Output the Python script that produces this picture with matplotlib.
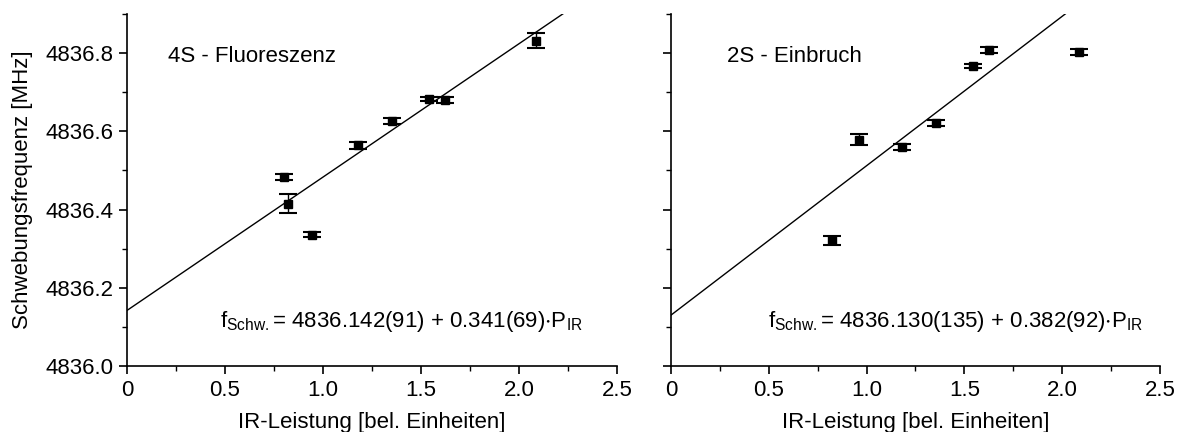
import numpy as np
import matplotlib.pyplot as plt
from matplotlib.ticker import MultipleLocator, FixedFormatter, FixedLocator

plt.rcParams['font.family'] = ['Liberation Sans', 'DejaVu Sans']
plt.rcParams['mathtext.default'] = 'regular'

# 4S fluorescence
p_4s = [0.80, 0.82, 0.945, 1.18, 1.35, 1.543, 1.62, 2.086]
f_4s = [4836.483, 4836.415, 4836.336, 4836.564, 4836.626, 4836.683, 4836.680, 4836.832]
e_4s = [0.007, 0.024, 0.007, 0.008, 0.007, 0.006, 0.007, 0.020]
fit_4s = (4836.142, 0.341)

# 2S dip
p_2s = [0.822, 0.961, 1.182, 1.354, 1.544, 1.626, 2.086]
f_2s = [4836.321, 4836.578, 4836.560, 4836.621, 4836.766, 4836.808, 4836.802]
e_2s = [0.012, 0.014, 0.007, 0.008, 0.005, 0.007, 0.008]
fit_2s = (4836.130, 0.382)

xticks = [0, 0.5, 1.0, 1.5, 2.0, 2.5]
xticklabels = ['0', '0.5', '1.0', '1.5', '2.0', '2.5']

fig = plt.figure(figsize=(11.8, 4.32), dpi=100)
ax1 = fig.add_axes([0.1076, 0.1528, 0.4153, 0.8148])
ax2 = fig.add_axes([0.5686, 0.1528, 0.4144, 0.8148])

panels = [
    (ax1, p_4s, f_4s, e_4s, fit_4s, '4S - Fluoreszenz', 0.084,
     r'$f_{Schw.}$= 4836.142(91) + 0.341(69)$\cdot$$P_{IR}$', 0.19),
    (ax2, p_2s, f_2s, e_2s, fit_2s, '2S - Einbruch', 0.115,
     r'$f_{Schw.}$= 4836.130(135) + 0.382(92)$\cdot$$P_{IR}$', 0.198),
]

for ax, px, fy, fe, (a, b), title, tx, eq, ex in panels:
    xl = np.array([0, 2.5])
    ax.plot(xl, a + b * xl, color='black', lw=1.0)
    ax.errorbar(px, fy, yerr=fe, fmt='s', color='black', ms=6,
                elinewidth=1.0, capsize=6.5, capthick=1.5)
    ax.set_xlim(0, 2.5)
    ax.set_ylim(4836.0, 4836.9)
    for side in ('top', 'right'):
        ax.spines[side].set_visible(False)
    for side in ('left', 'bottom'):
        ax.spines[side].set_linewidth(1.2)
    ax.xaxis.set_major_locator(FixedLocator(xticks))
    ax.xaxis.set_major_formatter(FixedFormatter(xticklabels))
    ax.xaxis.set_minor_locator(MultipleLocator(0.25))
    ax.yaxis.set_major_locator(MultipleLocator(0.2))
    ax.yaxis.set_minor_locator(MultipleLocator(0.1))
    ax.yaxis.set_major_formatter(plt.FuncFormatter(lambda v, _: f'{v:.1f}'))
    ax.tick_params(which='major', direction='out', length=6, width=1.2,
                   labelsize=16, pad=4)
    ax.tick_params(which='minor', direction='out', length=3.5, width=1.0)
    ax.set_xlabel('IR-Leistung [bel. Einheiten]', fontsize=16, labelpad=8)
    ax.text(tx, 0.88, title, transform=ax.transAxes, fontsize=16,
            va='center', ha='left')
    ax.text(ex, 0.125, eq, transform=ax.transAxes, fontsize=16,
            va='center', ha='left')

ax1.set_ylabel('Schwebungsfrequenz [MHz]', fontsize=16, labelpad=9)
ax2.tick_params(axis='y', labelleft=False)

fig.savefig('out.png', dpi=100)
